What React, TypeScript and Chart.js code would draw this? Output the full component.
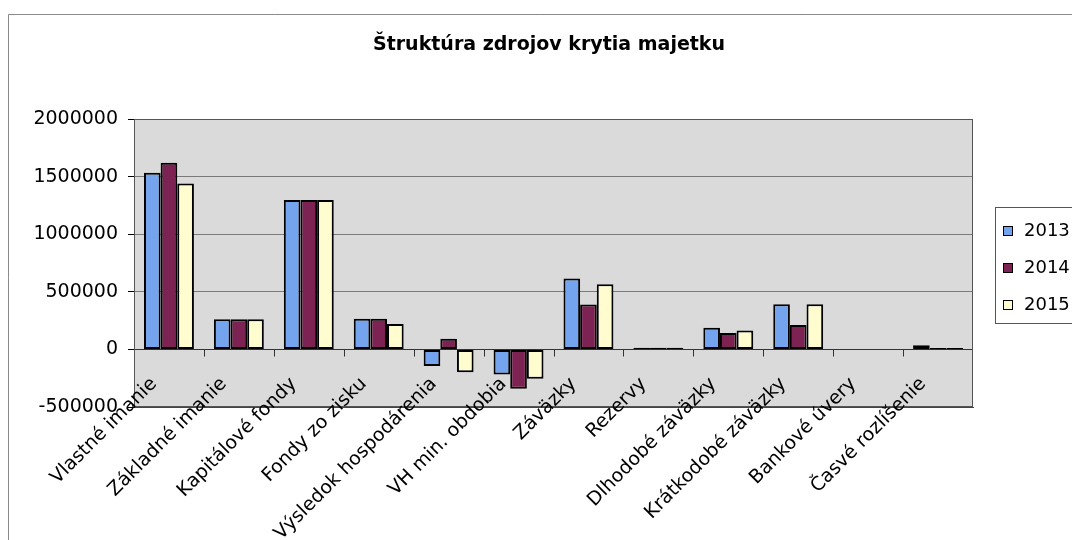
import { useEffect, useRef } from "react";
import { Chart, registerables } from "chart.js";

Chart.register(...registerables);

const titleText = "Štruktúra zdrojov krytia majetku";
const categories = [
  "Vlastné imanie",
  "Základné imanie",
  "Kapitálové fondy",
  "Fondy zo zisku",
  "Výsledok hospodárenia",
  "VH min. obdobia",
  "Záväzky",
  "Rezervy",
  "Dlhodobé záväzky",
  "Krátkodobé záväzky",
  "Bankové úvery",
  "Časvé rozlíšenie",
];
const years = ["2013", "2014", "2015"];
const values2013 = [1533000, 261000, 1296000, 267000, -145000, -217000, 615000, 15000, 189000, 391000, 0, 35000];
const values2014 = [1620000, 261000, 1296000, 267000, 93000, -342000, 389000, 15000, 142000, 211000, 0, 12000];
const values2015 = [1441000, 261000, 1296000, 220000, -198000, -255000, 565000, 15000, 165000, 391000, 0, 12000];
const seriesValues = [values2013, values2014, values2015];
const seriesColors = ["#73a4ed", "#7c2353", "#fffcd0"];
const yMin = -500000;
const yMax = 2000000;
const yStep = 500000;

const FONT = "'DejaVu Sans', 'Liberation Sans', Arial, sans-serif";

export default function App() {
  const ref = useRef<HTMLCanvasElement | null>(null);

  useEffect(() => {
    const canvas = ref.current;
    if (!canvas) return;

    const decor = {
      id: "decor",
      beforeDraw(chart: any) {
        const { ctx, chartArea } = chart;
        ctx.save();
        ctx.fillStyle = "#ffffff";
        ctx.fillRect(0, 0, chart.width, chart.height);
        // outer frame
        ctx.strokeStyle = "#8a8a8a";
        ctx.lineWidth = 1;
        ctx.beginPath();
        ctx.moveTo(8.5, chart.height);
        ctx.lineTo(8.5, 14.5);
        ctx.lineTo(chart.width, 14.5);
        ctx.stroke();
        // title
        ctx.fillStyle = "#000000";
        ctx.font = `bold 19px ${FONT}`;
        ctx.textAlign = "center";
        ctx.textBaseline = "middle";
        ctx.fillText(titleText, 549, 45);
        // plot background
        ctx.fillStyle = "#dadada";
        ctx.fillRect(chartArea.left, chartArea.top, chartArea.right - chartArea.left, chartArea.bottom - chartArea.top);
        ctx.restore();
      },
      beforeDatasetsDraw(chart: any) {
        const { ctx, chartArea, scales } = chart;
        ctx.save();
        ctx.strokeStyle = "#555555";
        ctx.lineWidth = 1;
        ctx.strokeRect(
          Math.round(chartArea.left) + 0.5,
          Math.round(chartArea.top) + 0.5,
          Math.round(chartArea.right - chartArea.left) - 1,
          Math.round(chartArea.bottom - chartArea.top) - 1
        );
        // category tick marks on the zero line
        const zy = Math.round(scales.y.getPixelForValue(0)) + 0.5;
        ctx.strokeStyle = "#333333";
        ctx.beginPath();
        for (let i = 0; i < categories.length - 1; i++) {
          const bx = Math.round((scales.x.getPixelForValue(i) + scales.x.getPixelForValue(i + 1)) / 2) + 0.5;
          ctx.moveTo(bx, zy);
          ctx.lineTo(bx, zy + 7);
        }
        ctx.stroke();
        // category labels (rotated, overlapping plot bottom as in the original)
        ctx.fillStyle = "#000000";
        ctx.font = `19px ${FONT}`;
        ctx.textAlign = "right";
        ctx.textBaseline = "middle";
        categories.forEach((lab, i) => {
          const px = scales.x.getPixelForValue(i);
          ctx.save();
          ctx.translate(px - 15, chartArea.bottom - 26);
          ctx.rotate(-Math.PI / 4);
          ctx.fillText(lab, 0, 0);
          ctx.restore();
        });
        ctx.restore();
      },
      afterDraw(chart: any) {
        const { ctx } = chart;
        ctx.save();
        // legend box
        ctx.fillStyle = "#ffffff";
        ctx.fillRect(995.5, 207.5, 90, 116);
        ctx.strokeStyle = "#555555";
        ctx.lineWidth = 1;
        ctx.strokeRect(995.5, 207.5, 90, 116);
        const centers = [231, 268, 305];
        ctx.font = `18px ${FONT}`;
        ctx.textBaseline = "middle";
        ctx.textAlign = "left";
        years.forEach((yr, i) => {
          const cy = centers[i];
          ctx.fillStyle = seriesColors[i];
          ctx.fillRect(1003.5, cy - 4.5, 9, 9);
          ctx.strokeStyle = "#000000";
          ctx.strokeRect(1003.5, cy - 4.5, 9, 9);
          ctx.fillStyle = "#000000";
          ctx.fillText(yr, 1024, cy);
        });
        ctx.restore();
      },
    };

    const chart = new Chart(canvas, {
      type: "bar",
      data: {
        labels: categories,
        datasets: years.map((yr, i) => ({
          label: yr,
          data: seriesValues[i],
          backgroundColor: seriesColors[i],
          borderColor: "#000000",
          borderWidth: 2,
          borderSkipped: false,
          categoryPercentage: 0.714,
          barPercentage: 1.0,
        })),
      },
      options: {
        responsive: false,
        animation: false,
        layout: { padding: { left: 0, right: 99, top: 119, bottom: 0 } },
        plugins: {
          legend: { display: false },
          tooltip: { enabled: false },
          title: { display: false },
        },
        scales: {
          x: {
            position: "bottom",
            grid: { display: false },
            border: { display: true, color: "#444444", width: 1 },
            ticks: { display: false },
            afterFit(scale: any) {
              scale.height = 133;
            },
          },
          y: {
            min: yMin,
            max: yMax,
            grid: {
              display: true,
              color: (c: any) => (c.tick && c.tick.value === 0 ? "#333333" : "#7a7a7a"),
              tickColor: "#000000",
              tickLength: 6,
              drawTicks: true,
            },
            border: { display: true, color: "#000000", width: 1 },
            ticks: {
              stepSize: yStep,
              padding: 10,
              color: "#000000",
              font: { family: FONT, size: 19 },
              callback: (v: any) => String(v),
            },
            afterFit(scale: any) {
              scale.width = 134;
            },
          },
        },
      },
      plugins: [decor],
    });

    return () => chart.destroy();
  }, []);

  return (
    <canvas
      ref={ref}
      width={1072}
      height={540}
      style={{ position: "fixed", left: 0, top: 0, width: "1072px", height: "540px" }}
    />
  );
}
